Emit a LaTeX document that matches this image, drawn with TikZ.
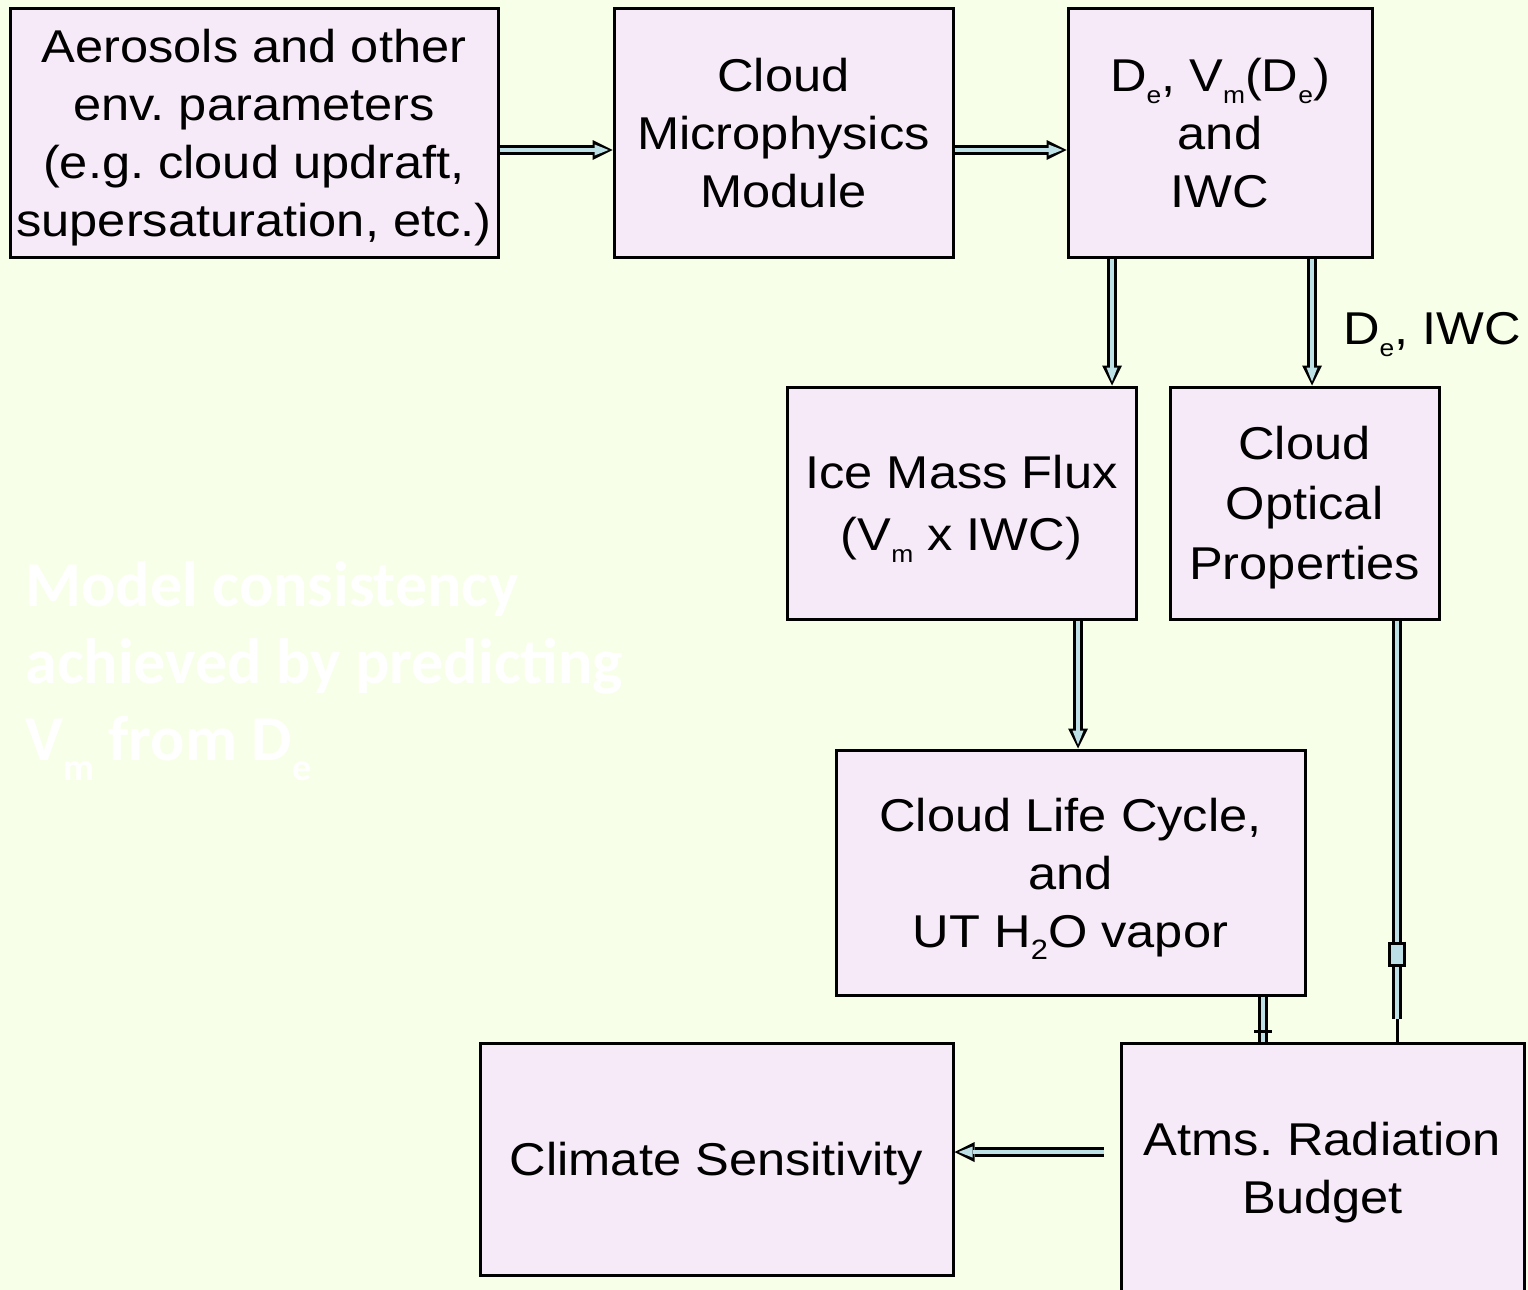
\documentclass[tikz,border=0pt]{standalone}
\usepackage{fontspec}
\setmainfont{Liberation Sans}[FakeStretch=1.1]
\newfontfamily\notefont{Carlito}
\usetikzlibrary{arrows.meta,calc}
\definecolor{bgc}{RGB}{248,255,232}
\definecolor{boxc}{RGB}{247,234,248}
\definecolor{arrc}{RGB}{188,224,230}
\newcommand\sbs[1]{\raisebox{-6pt}{\fontsize{12}{12}\selectfont #1}}
\newcommand\wsbs[1]{\raisebox{-10pt}{\fontsize{19}{19}\selectfont #1}}
\newcommand\nodp[1]{\raisebox{0pt}[\height][0pt]{#1}}
\frenchspacing
\begin{document}
\frenchspacing
\begin{tikzpicture}[x=0.5pt,y=-0.5pt,
  box/.style={draw=black, line width=1.5pt, fill=boxc, align=center, inner sep=0pt,
    font=\fontsize{23}{29}\selectfont\frenchspacing},
  lbl/.style={font=\fontsize{23}{29}\selectfont, inner sep=0pt},
  note/.style={font=\notefont\bfseries\fontsize{32}{38.5}\selectfont, text=white, inner sep=0pt, anchor=base west},
  arr/.style={draw=black, line width=5pt, -{Triangle[length=10pt,width=10pt,line width=0pt]},
    postaction={draw=arrc, line width=2.2pt, shorten >=2pt, -{Triangle[length=7pt,width=5.5pt,line width=0pt]}}},
  dbl/.style={draw=black, line width=5pt, postaction={draw=arrc, line width=2.2pt}},
  bulge/.style={draw=black, line width=9pt, postaction={draw=arrc, line width=6pt, shorten >=1.5pt, shorten <=1.5pt}},
  tick/.style={draw=black, line width=1.5pt},
]
\clip (0,0) rectangle (1528,1290);
\fill[bgc] (0,0) rectangle (1528,1290);

\node[box, minimum width=244pt, minimum height=124.5pt] (aer) at (254,132.5)
  {Aerosols and other\\env. parameters\\(e.g. cloud updraft,\\\nodp{supersaturation, etc.)}};
\node[box, minimum width=169.5pt, minimum height=124.5pt] (mic) at (783.5,132.5)
  {Cloud\\Microphysics\\\nodp{Module}};
\node[box, minimum width=152pt, minimum height=124.5pt] (de) at (1220,132.5)
  {D\sbs{e}, V\sbs{m}(D\sbs{e})\\and\\\nodp{IWC}};
\node[box, minimum width=174.5pt, minimum height=116pt] (ice) at (961.5,503)
  {Ice Mass Flux\\[2pt]\nodp{(V\sbs{m} x IWC)}};
\node[box, minimum width=134.5pt, minimum height=116pt] (opt) at (1304.5,503)
  {Cloud\\[1pt]Optical\\[1pt]\nodp{Properties}};
\node[box, minimum width=234.5pt, minimum height=122.5pt] (life) at (1070.5,872.5)
  {Cloud Life Cycle,\\and\\\nodp{UT H\sbs{\fontsize{14}{14}\selectfont 2}O vapor}};
\node[box, minimum width=236.5pt, minimum height=116pt] (clim) at (716.5,1159)
  {\nodp{Climate Sensitivity}};
\node[box, minimum width=201.5pt, minimum height=125pt] (rad) at (1322.5,1168)
  {Atms. Radiation\\\nodp{Budget}};

\draw[arr] ($(aer.east)+(0,17.5)$) -- ($(mic.west)+(0,17.5)$);
\draw[arr] ($(mic.east)+(0,17.5)$) -- ($(de.west)+(0,17.5)$);
\draw[arr] ($(de.south)+(-108,0)$) -- ($(ice.north)+(150.5,0)$);
\draw[arr] ($(de.south)+(92,0)$) -- ($(opt.north)+(7.5,0)$)
  node[lbl, pos=0.55, anchor=west, xshift=13pt, yshift=-3pt] (delbl) {D\sbs{e}, IWC};
\draw[arr] ($(ice.south)+(116.5,0)$) -- ($(life.north)+(7.5,0)$);
\draw[dbl] ($(life.south)+(192.5,0)$) -- ($(rad.north)+(-59.5,0)$);
\draw[tick] ($(rad.north)+(-68.5,-10)$) -- ($(rad.north)+(-50.5,-10)$);
\draw[line width=1.5pt] ($(opt.south)+(92.5,0)$) -- ($(rad.north)+(74.5,0)$);
\draw[dbl] ($(opt.south)+(92.5,0)$) -- ($(opt.south)+(92.5,398)$);
\draw[bulge] ($(opt.south)+(92.5,321)$) -- ($(opt.south)+(92.5,346)$);
\draw[arr] ($(rad.west)+(-16,-16)$) -- ($(clim.east)+(0,-7)$);

\node[note] (n1) at (25,606) {Model consistency};
\node[note] (n2) at (25,683) {achieved by predicting};
\node[note] (n3) at (25,760) {V\wsbs{m} from D\wsbs{e}};
\end{tikzpicture}
\end{document}
